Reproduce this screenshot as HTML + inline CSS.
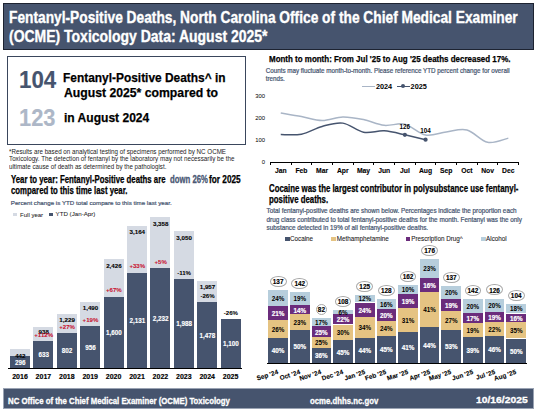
<!DOCTYPE html>
<html><head><meta charset="utf-8"><style>
html,body{margin:0;padding:0;background:#fff;}
body{width:535px;height:411px;position:relative;overflow:hidden;font-family:"Liberation Sans",sans-serif;}
.t{position:absolute;white-space:nowrap;transform-origin:0 0;}
.r{position:absolute;}
</style></head><body>
<div class="r" style="left:3.00px;top:3.00px;width:531.00px;height:47.00px;background:#46546e;box-sizing:border-box;border:1px solid #1d2331"></div>
<div class="t" style="left:9.30px;top:9.76px;font-size:16px;line-height:16px;font-weight:bold;color:#fff;transform:scaleX(0.859) ;-webkit-text-stroke:0.35px #fff;">Fentanyl-Positive Deaths, North Carolina Office of the Chief Medical Examiner</div>
<div class="t" style="left:9.00px;top:29.26px;font-size:16px;line-height:16px;font-weight:bold;color:#fff;transform:scaleX(0.873) ;-webkit-text-stroke:0.35px #fff;">(OCME) Toxicology Data: August 2025*</div>
<div class="r" style="left:7.00px;top:56.00px;width:239.30px;height:88.50px;background:#fff;box-sizing:border-box;border:1px solid #3a465c"></div>
<div class="t" style="left:18.50px;top:68.93px;font-size:23px;line-height:23px;font-weight:bold;color:#46546e;transform:scaleX(0.97) ;-webkit-text-stroke:0.15px #46546e;">104</div>
<div class="t" style="left:18.80px;top:106.83px;font-size:23px;line-height:23px;font-weight:bold;color:#adb7c7;transform:scaleX(0.95) ;-webkit-text-stroke:0.15px #adb7c7;">123</div>
<div class="t" style="left:63.40px;top:71.16px;font-size:13.4px;line-height:13.4px;font-weight:bold;color:#000;transform:scaleX(0.89) ;-webkit-text-stroke:0.25px #000;">Fentanyl-Positive Deaths^ in</div>
<div class="t" style="left:63.60px;top:86.16px;font-size:13.4px;line-height:13.4px;font-weight:bold;color:#000;transform:scaleX(0.912) ;-webkit-text-stroke:0.25px #000;">August 2025* compared to</div>
<div class="t" style="left:63.60px;top:111.36px;font-size:13.4px;line-height:13.4px;font-weight:bold;color:#000;transform:scaleX(0.9) ;-webkit-text-stroke:0.25px #000;">in August 2024</div>
<div class="t" style="left:9.20px;top:149.10px;font-size:6.5px;line-height:6.5px;font-weight:normal;color:#222;transform:scaleX(0.958) ;">*Results are based on analytical testing of specimens performed by NC OCME</div>
<div class="t" style="left:9.20px;top:156.30px;font-size:6.5px;line-height:6.5px;font-weight:normal;color:#222;transform:scaleX(0.964) ;">Toxicology. The detection of fentanyl by the laboratory may not necessarily be the</div>
<div class="t" style="left:9.20px;top:163.50px;font-size:6.5px;line-height:6.5px;font-weight:normal;color:#222;transform:scaleX(0.955) ;">ultimate cause of death as determined by the pathologist.</div>
<div class="t" style="left:10.80px;top:174.94px;font-size:10px;line-height:10px;font-weight:bold;color:#000;transform:scaleX(0.779) ;-webkit-text-stroke:0.25px #000;">Year to year: Fentanyl-Positive deaths are</div>
<div class="t" style="left:169.90px;top:175.03px;font-size:10px;line-height:10px;font-weight:bold;color:#4a5874;transform:scaleX(0.775) ;-webkit-text-stroke:0.3px #4a5874;">down 26%</div>
<div class="t" style="left:208.60px;top:174.94px;font-size:10px;line-height:10px;font-weight:bold;color:#000;transform:scaleX(0.827) ;-webkit-text-stroke:0.25px #000;">for 2025</div>
<div class="t" style="left:10.80px;top:185.53px;font-size:10px;line-height:10px;font-weight:bold;color:#000;transform:scaleX(0.779) ;-webkit-text-stroke:0.25px #000;">compared to this time last year.</div>
<div class="t" style="left:10.80px;top:200.05px;font-size:6.2px;line-height:6.2px;font-weight:normal;color:#44536e;transform:scaleX(1.0) ;-webkit-text-stroke:0.2px #44536e;">Percent change is YTD total compare to this time last year.</div>
<div class="r" style="left:13.40px;top:212.90px;width:3.30px;height:3.30px;background:#d5dae3;"></div>
<div class="t" style="left:20.10px;top:211.62px;font-size:6.0px;line-height:6.0px;font-weight:normal;color:#222;transform:scaleX(1.0) ;-webkit-text-stroke:0.05px #222;">Full year</div>
<div class="r" style="left:49.30px;top:212.90px;width:3.30px;height:3.30px;background:#46546e;"></div>
<div class="t" style="left:55.50px;top:211.45px;font-size:6.2px;line-height:6.2px;font-weight:normal;color:#222;transform:scaleX(1.0) ;-webkit-text-stroke:0.05px #222;">YTD (Jan-Apr)</div>
<div class="r" style="left:10.00px;top:349.26px;width:20.00px;height:19.34px;background:#d5dae3;"></div>
<div class="r" style="left:10.00px;top:355.88px;width:20.00px;height:12.72px;background:#46546e;"></div>
<div class="t" style="left:20.30px;top:352.81px;font-size:6.2px;line-height:6.2px;font-weight:bold;color:#000;transform:scaleX(1.0) translateX(-50%);-webkit-text-stroke:0.1px #000;">442</div>
<div class="t" style="left:20.30px;top:359.71px;font-size:6.3px;line-height:6.3px;font-weight:bold;color:#fff;transform:scaleX(1.0) translateX(-50%);-webkit-text-stroke:0.12px #fff;">296</div>
<div class="t" style="left:20.00px;top:373.37px;font-size:7.0px;line-height:7.0px;font-weight:bold;color:#000;transform:scaleX(1.0) translateX(-50%);-webkit-text-stroke:0.15px #000;">2016</div>
<div class="r" style="left:33.40px;top:326.77px;width:20.00px;height:41.83px;background:#d5dae3;"></div>
<div class="r" style="left:33.40px;top:340.60px;width:20.00px;height:28.00px;background:#46546e;"></div>
<div class="t" style="left:43.70px;top:329.02px;font-size:6.2px;line-height:6.2px;font-weight:bold;color:#000;transform:scaleX(1.0) translateX(-50%);-webkit-text-stroke:0.1px #000;">938</div>
<div class="t" style="left:43.70px;top:332.04px;font-size:6.1px;line-height:6.1px;font-weight:bold;color:#c8102e;transform:scaleX(1.0) translateX(-50%);-webkit-text-stroke:0.05px #c8102e;">+112%</div>
<div class="t" style="left:43.70px;top:352.07px;font-size:6.3px;line-height:6.3px;font-weight:bold;color:#fff;transform:scaleX(1.0) translateX(-50%);-webkit-text-stroke:0.12px #fff;">633</div>
<div class="t" style="left:43.40px;top:373.37px;font-size:7.0px;line-height:7.0px;font-weight:bold;color:#000;transform:scaleX(1.0) translateX(-50%);-webkit-text-stroke:0.15px #000;">2017</div>
<div class="r" style="left:56.80px;top:313.58px;width:20.00px;height:55.02px;background:#d5dae3;"></div>
<div class="r" style="left:56.80px;top:332.94px;width:20.00px;height:35.66px;background:#46546e;"></div>
<div class="t" style="left:67.10px;top:317.13px;font-size:6.2px;line-height:6.2px;font-weight:bold;color:#000;transform:scaleX(1.0) translateX(-50%);-webkit-text-stroke:0.1px #000;">1,229</div>
<div class="t" style="left:67.10px;top:323.57px;font-size:6.1px;line-height:6.1px;font-weight:bold;color:#c8102e;transform:scaleX(1.0) translateX(-50%);-webkit-text-stroke:0.05px #c8102e;">+27%</div>
<div class="t" style="left:67.10px;top:348.24px;font-size:6.3px;line-height:6.3px;font-weight:bold;color:#fff;transform:scaleX(1.0) translateX(-50%);-webkit-text-stroke:0.12px #fff;">802</div>
<div class="t" style="left:66.80px;top:373.37px;font-size:7.0px;line-height:7.0px;font-weight:bold;color:#000;transform:scaleX(1.0) translateX(-50%);-webkit-text-stroke:0.15px #000;">2018</div>
<div class="r" style="left:80.20px;top:301.74px;width:20.00px;height:66.86px;background:#d5dae3;"></div>
<div class="r" style="left:80.20px;top:325.95px;width:20.00px;height:42.65px;background:#46546e;"></div>
<div class="t" style="left:90.50px;top:305.30px;font-size:6.2px;line-height:6.2px;font-weight:bold;color:#000;transform:scaleX(1.0) translateX(-50%);-webkit-text-stroke:0.1px #000;">1,490</div>
<div class="t" style="left:90.50px;top:316.59px;font-size:6.1px;line-height:6.1px;font-weight:bold;color:#c8102e;transform:scaleX(1.0) translateX(-50%);-webkit-text-stroke:0.05px #c8102e;">+19%</div>
<div class="t" style="left:90.50px;top:344.74px;font-size:6.3px;line-height:6.3px;font-weight:bold;color:#fff;transform:scaleX(1.0) translateX(-50%);-webkit-text-stroke:0.12px #fff;">956</div>
<div class="t" style="left:90.20px;top:373.37px;font-size:7.0px;line-height:7.0px;font-weight:bold;color:#000;transform:scaleX(1.0) translateX(-50%);-webkit-text-stroke:0.15px #000;">2019</div>
<div class="r" style="left:103.60px;top:259.31px;width:20.00px;height:109.29px;background:#d5dae3;"></div>
<div class="r" style="left:103.60px;top:296.76px;width:20.00px;height:71.84px;background:#46546e;"></div>
<div class="t" style="left:113.90px;top:262.86px;font-size:6.2px;line-height:6.2px;font-weight:bold;color:#000;transform:scaleX(1.0) translateX(-50%);-webkit-text-stroke:0.1px #000;">2,426</div>
<div class="t" style="left:113.90px;top:287.39px;font-size:6.1px;line-height:6.1px;font-weight:bold;color:#c8102e;transform:scaleX(1.0) translateX(-50%);-webkit-text-stroke:0.05px #c8102e;">+67%</div>
<div class="t" style="left:113.90px;top:330.15px;font-size:6.3px;line-height:6.3px;font-weight:bold;color:#fff;transform:scaleX(1.0) translateX(-50%);-webkit-text-stroke:0.12px #fff;">1,600</div>
<div class="t" style="left:113.60px;top:373.37px;font-size:7.0px;line-height:7.0px;font-weight:bold;color:#000;transform:scaleX(1.0) translateX(-50%);-webkit-text-stroke:0.15px #000;">2020</div>
<div class="r" style="left:127.00px;top:225.84px;width:20.00px;height:142.76px;background:#d5dae3;"></div>
<div class="r" style="left:127.00px;top:272.68px;width:20.00px;height:95.92px;background:#46546e;"></div>
<div class="t" style="left:137.30px;top:229.40px;font-size:6.2px;line-height:6.2px;font-weight:bold;color:#000;transform:scaleX(1.0) translateX(-50%);-webkit-text-stroke:0.1px #000;">3,164</div>
<div class="t" style="left:137.30px;top:263.32px;font-size:6.1px;line-height:6.1px;font-weight:bold;color:#c8102e;transform:scaleX(1.0) translateX(-50%);-webkit-text-stroke:0.05px #c8102e;">+33%</div>
<div class="t" style="left:137.30px;top:318.11px;font-size:6.3px;line-height:6.3px;font-weight:bold;color:#fff;transform:scaleX(1.0) translateX(-50%);-webkit-text-stroke:0.12px #fff;">2,131</div>
<div class="t" style="left:137.00px;top:373.37px;font-size:7.0px;line-height:7.0px;font-weight:bold;color:#000;transform:scaleX(1.0) translateX(-50%);-webkit-text-stroke:0.15px #000;">2021</div>
<div class="r" style="left:150.40px;top:217.05px;width:20.00px;height:151.55px;background:#d5dae3;"></div>
<div class="r" style="left:150.40px;top:268.10px;width:20.00px;height:100.50px;background:#46546e;"></div>
<div class="t" style="left:160.70px;top:220.60px;font-size:6.2px;line-height:6.2px;font-weight:bold;color:#000;transform:scaleX(1.0) translateX(-50%);-webkit-text-stroke:0.1px #000;">3,358</div>
<div class="t" style="left:160.70px;top:258.74px;font-size:6.1px;line-height:6.1px;font-weight:bold;color:#c8102e;transform:scaleX(1.0) translateX(-50%);-webkit-text-stroke:0.05px #c8102e;">+5%</div>
<div class="t" style="left:160.70px;top:315.82px;font-size:6.3px;line-height:6.3px;font-weight:bold;color:#fff;transform:scaleX(1.0) translateX(-50%);-webkit-text-stroke:0.12px #fff;">2,232</div>
<div class="t" style="left:160.40px;top:373.37px;font-size:7.0px;line-height:7.0px;font-weight:bold;color:#000;transform:scaleX(1.0) translateX(-50%);-webkit-text-stroke:0.15px #000;">2022</div>
<div class="r" style="left:173.80px;top:231.01px;width:20.00px;height:137.59px;background:#d5dae3;"></div>
<div class="r" style="left:173.80px;top:279.16px;width:20.00px;height:89.44px;background:#46546e;"></div>
<div class="t" style="left:184.10px;top:234.56px;font-size:6.2px;line-height:6.2px;font-weight:bold;color:#000;transform:scaleX(1.0) translateX(-50%);-webkit-text-stroke:0.1px #000;">3,050</div>
<div class="t" style="left:184.10px;top:269.80px;font-size:6.1px;line-height:6.1px;font-weight:bold;color:#000;transform:scaleX(1.0) translateX(-50%);-webkit-text-stroke:0.05px #000;">-11%</div>
<div class="t" style="left:184.10px;top:321.35px;font-size:6.3px;line-height:6.3px;font-weight:bold;color:#fff;transform:scaleX(1.0) translateX(-50%);-webkit-text-stroke:0.12px #fff;">1,988</div>
<div class="t" style="left:183.80px;top:373.37px;font-size:7.0px;line-height:7.0px;font-weight:bold;color:#000;transform:scaleX(1.0) translateX(-50%);-webkit-text-stroke:0.15px #000;">2023</div>
<div class="r" style="left:197.20px;top:280.57px;width:20.00px;height:88.03px;background:#d5dae3;"></div>
<div class="r" style="left:197.20px;top:302.29px;width:20.00px;height:66.31px;background:#46546e;"></div>
<div class="t" style="left:207.50px;top:284.12px;font-size:6.2px;line-height:6.2px;font-weight:bold;color:#000;transform:scaleX(1.0) translateX(-50%);-webkit-text-stroke:0.1px #000;">1,957</div>
<div class="t" style="left:207.50px;top:292.92px;font-size:6.1px;line-height:6.1px;font-weight:bold;color:#000;transform:scaleX(1.0) translateX(-50%);-webkit-text-stroke:0.05px #000;">-26%</div>
<div class="t" style="left:207.50px;top:332.91px;font-size:6.3px;line-height:6.3px;font-weight:bold;color:#fff;transform:scaleX(1.0) translateX(-50%);-webkit-text-stroke:0.12px #fff;">1,478</div>
<div class="t" style="left:207.20px;top:373.37px;font-size:7.0px;line-height:7.0px;font-weight:bold;color:#000;transform:scaleX(1.0) translateX(-50%);-webkit-text-stroke:0.15px #000;">2024</div>
<div class="r" style="left:220.60px;top:319.43px;width:20.00px;height:49.17px;background:#46546e;"></div>
<div class="t" style="left:230.90px;top:310.06px;font-size:6.1px;line-height:6.1px;font-weight:bold;color:#000;transform:scaleX(1.0) translateX(-50%);-webkit-text-stroke:0.05px #000;">-26%</div>
<div class="t" style="left:230.90px;top:341.48px;font-size:6.3px;line-height:6.3px;font-weight:bold;color:#fff;transform:scaleX(1.0) translateX(-50%);-webkit-text-stroke:0.12px #fff;">1,100</div>
<div class="t" style="left:230.60px;top:373.37px;font-size:7.0px;line-height:7.0px;font-weight:bold;color:#000;transform:scaleX(1.0) translateX(-50%);-webkit-text-stroke:0.15px #000;">2025</div>
<div class="r" style="left:8.00px;top:367.55px;width:233.50px;height:1.10px;background:#000;"></div>
<div class="r" style="left:3.00px;top:387.80px;width:531.00px;height:21.20px;background:#46546e;box-sizing:border-box;border:1px solid #9aa3b3"></div>
<div class="t" style="left:8.00px;top:396.32px;font-size:9.9px;line-height:9.9px;font-weight:bold;color:#fff;transform:scaleX(0.789) ;-webkit-text-stroke:0.35px #fff;">NC Office of the Chief Medical Examiner (OCME) Toxicology</div>
<div class="t" style="left:309.80px;top:396.71px;font-size:9.2px;line-height:9.2px;font-weight:bold;color:#fff;transform:scaleX(0.846) ;-webkit-text-stroke:0.3px #fff;">ocme.dhhs.nc.gov</div>
<div class="t" style="left:476.10px;top:394.94px;font-size:9.4px;line-height:9.4px;font-weight:bold;color:#fff;transform:scaleX(1.1) ;-webkit-text-stroke:0.3px #fff;">10/16/2025</div>
<div class="t" style="left:269.20px;top:53.96px;font-size:9.5px;line-height:9.5px;font-weight:bold;color:#000;transform:scaleX(0.838) ;-webkit-text-stroke:0.25px #000;">Month to month: From Jul '25 to Aug '25 deaths decreased 17%.</div>
<div class="t" style="left:265.70px;top:68.19px;font-size:6.27px;line-height:6.27px;font-weight:normal;color:#44536e;transform:scaleX(1.0) ;-webkit-text-stroke:0.2px #44536e;">Counts may fluctuate month-to-month. Please reference YTD percent change for overall</div>
<div class="t" style="left:265.70px;top:75.99px;font-size:6.27px;line-height:6.27px;font-weight:normal;color:#44536e;transform:scaleX(1.0) ;-webkit-text-stroke:0.2px #44536e;">trends.</div>
<div class="r" style="left:362.20px;top:86.00px;width:13.00px;height:1.00px;background:#a9b5c6;"></div>
<div class="t" style="left:375.90px;top:83.02px;font-size:7.3px;line-height:7.3px;font-weight:bold;color:#000;transform:scaleX(1.0) ;">2024</div>
<div class="r" style="left:397.20px;top:86.00px;width:12.40px;height:1.20px;background:#46546e;"></div>
<div class="r" style="left:401.3px;top:84.3px;width:4px;height:4px;border-radius:50%;background:#46546e"></div>
<div class="t" style="left:410.60px;top:83.02px;font-size:7.3px;line-height:7.3px;font-weight:bold;color:#000;transform:scaleX(1.0) ;">2025</div>
<div class="t" style="left:265.00px;top:160.21px;font-size:5.9px;line-height:5.9px;font-weight:normal;color:#000;transform:scaleX(1.0) translateX(-100%);">0</div>
<div class="t" style="left:265.00px;top:138.16px;font-size:5.9px;line-height:5.9px;font-weight:normal;color:#000;transform:scaleX(1.0) translateX(-100%);">100</div>
<div class="t" style="left:265.00px;top:116.11px;font-size:5.9px;line-height:5.9px;font-weight:normal;color:#000;transform:scaleX(1.0) translateX(-100%);">200</div>
<div class="t" style="left:265.00px;top:94.06px;font-size:5.9px;line-height:5.9px;font-weight:normal;color:#000;transform:scaleX(1.0) translateX(-100%);">300</div>
<div class="r" style="left:270.40px;top:162.20px;width:248.28px;height:1.00px;background:#000;"></div>
<div class="r" style="left:269.90px;top:162.20px;width:1.00px;height:2.50px;background:#000;"></div>
<div class="r" style="left:290.59px;top:162.20px;width:1.00px;height:2.50px;background:#000;"></div>
<div class="r" style="left:311.28px;top:162.20px;width:1.00px;height:2.50px;background:#000;"></div>
<div class="r" style="left:331.97px;top:162.20px;width:1.00px;height:2.50px;background:#000;"></div>
<div class="r" style="left:352.66px;top:162.20px;width:1.00px;height:2.50px;background:#000;"></div>
<div class="r" style="left:373.35px;top:162.20px;width:1.00px;height:2.50px;background:#000;"></div>
<div class="r" style="left:394.04px;top:162.20px;width:1.00px;height:2.50px;background:#000;"></div>
<div class="r" style="left:414.73px;top:162.20px;width:1.00px;height:2.50px;background:#000;"></div>
<div class="r" style="left:435.42px;top:162.20px;width:1.00px;height:2.50px;background:#000;"></div>
<div class="r" style="left:456.11px;top:162.20px;width:1.00px;height:2.50px;background:#000;"></div>
<div class="r" style="left:476.80px;top:162.20px;width:1.00px;height:2.50px;background:#000;"></div>
<div class="r" style="left:497.49px;top:162.20px;width:1.00px;height:2.50px;background:#000;"></div>
<div class="r" style="left:518.18px;top:162.20px;width:1.00px;height:2.50px;background:#000;"></div>
<div class="t" style="left:280.75px;top:168.04px;font-size:6.8px;line-height:6.8px;font-weight:bold;color:#000;transform:scaleX(1.0) translateX(-50%);-webkit-text-stroke:0.1px #000;">Jan</div>
<div class="t" style="left:301.44px;top:168.04px;font-size:6.8px;line-height:6.8px;font-weight:bold;color:#000;transform:scaleX(1.0) translateX(-50%);-webkit-text-stroke:0.1px #000;">Feb</div>
<div class="t" style="left:322.12px;top:168.04px;font-size:6.8px;line-height:6.8px;font-weight:bold;color:#000;transform:scaleX(1.0) translateX(-50%);-webkit-text-stroke:0.1px #000;">Mar</div>
<div class="t" style="left:342.81px;top:168.04px;font-size:6.8px;line-height:6.8px;font-weight:bold;color:#000;transform:scaleX(1.0) translateX(-50%);-webkit-text-stroke:0.1px #000;">Apr</div>
<div class="t" style="left:363.50px;top:168.04px;font-size:6.8px;line-height:6.8px;font-weight:bold;color:#000;transform:scaleX(1.0) translateX(-50%);-webkit-text-stroke:0.1px #000;">May</div>
<div class="t" style="left:384.19px;top:168.04px;font-size:6.8px;line-height:6.8px;font-weight:bold;color:#000;transform:scaleX(1.0) translateX(-50%);-webkit-text-stroke:0.1px #000;">Jun</div>
<div class="t" style="left:404.88px;top:168.04px;font-size:6.8px;line-height:6.8px;font-weight:bold;color:#000;transform:scaleX(1.0) translateX(-50%);-webkit-text-stroke:0.1px #000;">Jul</div>
<div class="t" style="left:425.57px;top:168.04px;font-size:6.8px;line-height:6.8px;font-weight:bold;color:#000;transform:scaleX(1.0) translateX(-50%);-webkit-text-stroke:0.1px #000;">Aug</div>
<div class="t" style="left:446.26px;top:168.04px;font-size:6.8px;line-height:6.8px;font-weight:bold;color:#000;transform:scaleX(1.0) translateX(-50%);-webkit-text-stroke:0.1px #000;">Sep</div>
<div class="t" style="left:466.95px;top:168.04px;font-size:6.8px;line-height:6.8px;font-weight:bold;color:#000;transform:scaleX(1.0) translateX(-50%);-webkit-text-stroke:0.1px #000;">Oct</div>
<div class="t" style="left:487.64px;top:168.04px;font-size:6.8px;line-height:6.8px;font-weight:bold;color:#000;transform:scaleX(1.0) translateX(-50%);-webkit-text-stroke:0.1px #000;">Nov</div>
<div class="t" style="left:508.33px;top:168.04px;font-size:6.8px;line-height:6.8px;font-weight:bold;color:#000;transform:scaleX(1.0) translateX(-50%);-webkit-text-stroke:0.1px #000;">Dec</div>
<svg class="r" style="left:0;top:0" width="535" height="411" viewBox="0 0 535 411"><path d="M280.75,112.99 C284.19,113.58 294.54,115.27 301.44,116.52 C308.33,117.77 315.23,120.41 322.12,120.48 C329.02,120.56 335.92,117.10 342.81,116.96 C349.71,116.81 356.61,118.21 363.50,119.60 C370.40,121.00 377.30,124.56 384.19,125.34 C391.09,126.11 397.99,122.62 404.88,124.23 C411.78,125.85 418.68,133.75 425.57,135.04 C432.47,136.32 439.37,132.80 446.26,131.95 C453.16,131.11 460.06,128.24 466.95,129.97 C473.85,131.69 480.75,140.95 487.64,142.31 C494.54,143.67 504.89,138.82 508.33,138.12" fill="none" stroke="#a9b5c6" stroke-width="1.5"/><path d="M280.75,134.60 C284.19,134.52 294.54,135.52 301.44,134.16 C308.33,132.80 315.23,128.28 322.12,126.44 C329.02,124.60 335.92,122.17 342.81,123.13 C349.71,124.09 356.61,130.88 363.50,132.17 C370.40,133.46 377.30,130.41 384.19,130.85 C391.09,131.29 401.44,134.16 404.88,134.82" fill="none" stroke="#46546e" stroke-width="1.5"/><line x1="404.88" y1="134.82" x2="425.57" y2="139.67" stroke="#46546e" stroke-width="1.5"/><circle cx="404.88" cy="134.82" r="2.1" fill="#46546e"/><circle cx="425.57" cy="139.67" r="2.1" fill="#46546e"/></svg>
<div class="t" style="left:404.88px;top:123.78px;font-size:6.3px;line-height:6.3px;font-weight:bold;color:#000;transform:scaleX(1.0) translateX(-50%);">126</div>
<div class="t" style="left:425.57px;top:128.34px;font-size:6.3px;line-height:6.3px;font-weight:bold;color:#000;transform:scaleX(1.0) translateX(-50%);">104</div>
<div class="t" style="left:268.50px;top:183.53px;font-size:10px;line-height:10px;font-weight:bold;color:#000;transform:scaleX(0.782) ;-webkit-text-stroke:0.25px #000;">Cocaine was the largest contributor in polysubstance use fentanyl-</div>
<div class="t" style="left:268.50px;top:194.94px;font-size:10px;line-height:10px;font-weight:bold;color:#000;transform:scaleX(0.782) ;-webkit-text-stroke:0.25px #000;">positive deaths.</div>
<div class="t" style="left:266.60px;top:208.22px;font-size:6.35px;line-height:6.35px;font-weight:normal;color:#44536e;transform:scaleX(1.0) ;-webkit-text-stroke:0.2px #44536e;">Total fentanyl-positive deaths are shown below. Percentages indicate the proportion each</div>
<div class="t" style="left:266.60px;top:216.52px;font-size:6.35px;line-height:6.35px;font-weight:normal;color:#44536e;transform:scaleX(1.0) ;-webkit-text-stroke:0.2px #44536e;">drug class contributed to total fentanyl-positive deaths for the month. Fentanyl was the only</div>
<div class="t" style="left:266.60px;top:224.92px;font-size:6.35px;line-height:6.35px;font-weight:normal;color:#44536e;transform:scaleX(1.0) ;-webkit-text-stroke:0.2px #44536e;">substance detected in 19% of all fentanyl-positive deaths.</div>
<div class="r" style="left:285.30px;top:237.20px;width:4.80px;height:3.60px;background:#46546e;"></div>
<div class="t" style="left:290.00px;top:235.67px;font-size:6.3px;line-height:6.3px;font-weight:normal;color:#222;transform:scaleX(1.0) ;-webkit-text-stroke:0.08px #222;">Cocaine</div>
<div class="r" style="left:330.90px;top:237.20px;width:4.80px;height:3.60px;background:#e5c382;"></div>
<div class="t" style="left:336.70px;top:235.67px;font-size:6.3px;line-height:6.3px;font-weight:normal;color:#222;transform:scaleX(1.0) ;-webkit-text-stroke:0.08px #222;">Methamphetamine</div>
<div class="r" style="left:405.70px;top:237.20px;width:4.80px;height:3.60px;background:#6b2c7c;"></div>
<div class="t" style="left:411.20px;top:235.67px;font-size:6.3px;line-height:6.3px;font-weight:normal;color:#222;transform:scaleX(1.0) ;-webkit-text-stroke:0.08px #222;">Prescription Drug^</div>
<div class="r" style="left:481.10px;top:237.20px;width:4.80px;height:3.60px;background:#b7cedc;"></div>
<div class="t" style="left:486.10px;top:235.67px;font-size:6.3px;line-height:6.3px;font-weight:normal;color:#222;transform:scaleX(1.0) ;-webkit-text-stroke:0.08px #222;">Alcohol</div>
<div class="r" style="left:268.30px;top:337.80px;width:19.70px;height:24.75px;background:#46546e;"></div>
<div class="t" style="left:278.15px;top:348.34px;font-size:6.3px;line-height:6.3px;font-weight:bold;color:#fff;transform:scaleX(1.0) translateX(-50%);-webkit-text-stroke:0.18px #fff;">40%</div>
<div class="r" style="left:268.30px;top:319.90px;width:19.70px;height:17.90px;background:#e5c382;"></div>
<div class="t" style="left:278.15px;top:326.52px;font-size:6.3px;line-height:6.3px;font-weight:bold;color:#000;transform:scaleX(1.0) translateX(-50%);">26%</div>
<div class="r" style="left:268.30px;top:306.20px;width:19.70px;height:13.70px;background:#6b2c7c;"></div>
<div class="t" style="left:278.15px;top:311.22px;font-size:6.3px;line-height:6.3px;font-weight:bold;color:#fff;transform:scaleX(1.0) translateX(-50%);-webkit-text-stroke:0.18px #fff;">21%</div>
<div class="r" style="left:268.30px;top:290.25px;width:19.70px;height:15.95px;background:#b7cedc;"></div>
<div class="t" style="left:278.15px;top:295.89px;font-size:6.3px;line-height:6.3px;font-weight:bold;color:#000;transform:scaleX(1.0) translateX(-50%);">24%</div>
<div class="r" style="left:269.75px;top:275.95px;width:16.8px;height:11.2px;box-sizing:border-box;border:0.8px solid #a8a8a8;border-radius:50%;background:#fff"></div>
<div class="t" style="left:278.15px;top:279.23px;font-size:6.4px;line-height:6.4px;font-weight:bold;color:#000;transform:scaleX(1.0) translateX(-50%);-webkit-text-stroke:0.15px #000;">137</div>
<div class="t" style="left:277.15px;top:368.70px;font-size:6.4px;line-height:6.4px;font-weight:bold;color:#000;-webkit-text-stroke:0.1px #000;transform-origin:100% 0;transform:translateX(-100%) rotate(-18deg)">Sep '24</div>
<div class="r" style="left:289.94px;top:329.80px;width:19.70px;height:32.75px;background:#46546e;"></div>
<div class="t" style="left:299.79px;top:344.34px;font-size:6.3px;line-height:6.3px;font-weight:bold;color:#fff;transform:scaleX(1.0) translateX(-50%);-webkit-text-stroke:0.18px #fff;">50%</div>
<div class="r" style="left:289.94px;top:314.40px;width:19.70px;height:15.40px;background:#e5c382;"></div>
<div class="t" style="left:299.79px;top:319.77px;font-size:6.3px;line-height:6.3px;font-weight:bold;color:#000;transform:scaleX(1.0) translateX(-50%);">23%</div>
<div class="r" style="left:289.94px;top:304.90px;width:19.70px;height:9.50px;background:#6b2c7c;"></div>
<div class="t" style="left:299.79px;top:307.82px;font-size:6.3px;line-height:6.3px;font-weight:bold;color:#fff;transform:scaleX(1.0) translateX(-50%);-webkit-text-stroke:0.18px #fff;">14%</div>
<div class="r" style="left:289.94px;top:291.80px;width:19.70px;height:13.10px;background:#b7cedc;"></div>
<div class="t" style="left:299.79px;top:296.02px;font-size:6.3px;line-height:6.3px;font-weight:bold;color:#000;transform:scaleX(1.0) translateX(-50%);">19%</div>
<div class="r" style="left:291.39px;top:277.50px;width:16.8px;height:11.2px;box-sizing:border-box;border:0.8px solid #a8a8a8;border-radius:50%;background:#fff"></div>
<div class="t" style="left:299.79px;top:280.78px;font-size:6.4px;line-height:6.4px;font-weight:bold;color:#000;transform:scaleX(1.0) translateX(-50%);-webkit-text-stroke:0.15px #000;">142</div>
<div class="t" style="left:298.79px;top:368.70px;font-size:6.4px;line-height:6.4px;font-weight:bold;color:#000;-webkit-text-stroke:0.1px #000;transform-origin:100% 0;transform:translateX(-100%) rotate(-18deg)">Oct '24</div>
<div class="r" style="left:311.58px;top:347.60px;width:19.70px;height:14.95px;background:#46546e;"></div>
<div class="t" style="left:321.43px;top:353.24px;font-size:6.3px;line-height:6.3px;font-weight:bold;color:#fff;transform:scaleX(1.0) translateX(-50%);-webkit-text-stroke:0.18px #fff;">36%</div>
<div class="r" style="left:311.58px;top:337.10px;width:19.70px;height:10.50px;background:#e5c382;"></div>
<div class="t" style="left:321.43px;top:340.02px;font-size:6.3px;line-height:6.3px;font-weight:bold;color:#000;transform:scaleX(1.0) translateX(-50%);">25%</div>
<div class="r" style="left:311.58px;top:326.10px;width:19.70px;height:11.00px;background:#6b2c7c;"></div>
<div class="t" style="left:321.43px;top:329.77px;font-size:6.3px;line-height:6.3px;font-weight:bold;color:#fff;transform:scaleX(1.0) translateX(-50%);-webkit-text-stroke:0.18px #fff;">25%</div>
<div class="r" style="left:311.58px;top:318.00px;width:19.70px;height:8.10px;background:#b7cedc;"></div>
<div class="t" style="left:321.43px;top:319.72px;font-size:6.3px;line-height:6.3px;font-weight:bold;color:#000;transform:scaleX(1.0) translateX(-50%);">17%</div>
<div class="r" style="left:315.83px;top:303.70px;width:11.2px;height:11.2px;box-sizing:border-box;border:0.8px solid #a8a8a8;border-radius:50%;background:#fff"></div>
<div class="t" style="left:321.43px;top:306.98px;font-size:6.4px;line-height:6.4px;font-weight:bold;color:#000;transform:scaleX(1.0) translateX(-50%);-webkit-text-stroke:0.15px #000;">82</div>
<div class="t" style="left:320.43px;top:368.70px;font-size:6.4px;line-height:6.4px;font-weight:bold;color:#000;-webkit-text-stroke:0.1px #000;transform-origin:100% 0;transform:translateX(-100%) rotate(-18deg)">Nov '24</div>
<div class="r" style="left:333.22px;top:340.40px;width:19.70px;height:22.15px;background:#46546e;"></div>
<div class="t" style="left:343.07px;top:349.64px;font-size:6.3px;line-height:6.3px;font-weight:bold;color:#fff;transform:scaleX(1.0) translateX(-50%);-webkit-text-stroke:0.18px #fff;">45%</div>
<div class="r" style="left:333.22px;top:324.50px;width:19.70px;height:15.90px;background:#e5c382;"></div>
<div class="t" style="left:343.07px;top:330.12px;font-size:6.3px;line-height:6.3px;font-weight:bold;color:#000;transform:scaleX(1.0) translateX(-50%);">30%</div>
<div class="r" style="left:333.22px;top:313.80px;width:19.70px;height:10.70px;background:#6b2c7c;"></div>
<div class="t" style="left:343.07px;top:317.32px;font-size:6.3px;line-height:6.3px;font-weight:bold;color:#fff;transform:scaleX(1.0) translateX(-50%);-webkit-text-stroke:0.18px #fff;">22%</div>
<div class="r" style="left:333.22px;top:309.90px;width:19.70px;height:3.90px;background:#b7cedc;"></div>
<div class="t" style="left:343.07px;top:309.52px;font-size:6.3px;line-height:6.3px;font-weight:bold;color:#000;transform:scaleX(1.0) translateX(-50%);">6%</div>
<div class="r" style="left:334.67px;top:295.60px;width:16.8px;height:11.2px;box-sizing:border-box;border:0.8px solid #a8a8a8;border-radius:50%;background:#fff"></div>
<div class="t" style="left:343.07px;top:298.88px;font-size:6.4px;line-height:6.4px;font-weight:bold;color:#000;transform:scaleX(1.0) translateX(-50%);-webkit-text-stroke:0.15px #000;">108</div>
<div class="t" style="left:342.07px;top:368.70px;font-size:6.4px;line-height:6.4px;font-weight:bold;color:#000;-webkit-text-stroke:0.1px #000;transform-origin:100% 0;transform:translateX(-100%) rotate(-18deg)">Dec '24</div>
<div class="r" style="left:354.86px;top:337.90px;width:19.70px;height:24.65px;background:#46546e;"></div>
<div class="t" style="left:364.71px;top:348.39px;font-size:6.3px;line-height:6.3px;font-weight:bold;color:#fff;transform:scaleX(1.0) translateX(-50%);-webkit-text-stroke:0.18px #fff;">44%</div>
<div class="r" style="left:354.86px;top:317.10px;width:19.70px;height:20.80px;background:#e5c382;"></div>
<div class="t" style="left:364.71px;top:325.17px;font-size:6.3px;line-height:6.3px;font-weight:bold;color:#000;transform:scaleX(1.0) translateX(-50%);">34%</div>
<div class="r" style="left:354.86px;top:302.50px;width:19.70px;height:14.60px;background:#6b2c7c;"></div>
<div class="t" style="left:364.71px;top:307.97px;font-size:6.3px;line-height:6.3px;font-weight:bold;color:#fff;transform:scaleX(1.0) translateX(-50%);-webkit-text-stroke:0.18px #fff;">24%</div>
<div class="r" style="left:354.86px;top:295.10px;width:19.70px;height:7.40px;background:#b7cedc;"></div>
<div class="t" style="left:364.71px;top:296.47px;font-size:6.3px;line-height:6.3px;font-weight:bold;color:#000;transform:scaleX(1.0) translateX(-50%);">12%</div>
<div class="r" style="left:356.31px;top:280.80px;width:16.8px;height:11.2px;box-sizing:border-box;border:0.8px solid #a8a8a8;border-radius:50%;background:#fff"></div>
<div class="t" style="left:364.71px;top:284.08px;font-size:6.4px;line-height:6.4px;font-weight:bold;color:#000;transform:scaleX(1.0) translateX(-50%);-webkit-text-stroke:0.15px #000;">125</div>
<div class="t" style="left:363.71px;top:368.70px;font-size:6.4px;line-height:6.4px;font-weight:bold;color:#000;-webkit-text-stroke:0.1px #000;transform-origin:100% 0;transform:translateX(-100%) rotate(-18deg)">Jan '25</div>
<div class="r" style="left:376.50px;top:336.10px;width:19.70px;height:26.45px;background:#46546e;"></div>
<div class="t" style="left:386.35px;top:347.49px;font-size:6.3px;line-height:6.3px;font-weight:bold;color:#fff;transform:scaleX(1.0) translateX(-50%);-webkit-text-stroke:0.18px #fff;">45%</div>
<div class="r" style="left:376.50px;top:320.60px;width:19.70px;height:15.50px;background:#e5c382;"></div>
<div class="t" style="left:386.35px;top:326.02px;font-size:6.3px;line-height:6.3px;font-weight:bold;color:#000;transform:scaleX(1.0) translateX(-50%);">24%</div>
<div class="r" style="left:376.50px;top:309.30px;width:19.70px;height:11.30px;background:#6b2c7c;"></div>
<div class="t" style="left:386.35px;top:313.12px;font-size:6.3px;line-height:6.3px;font-weight:bold;color:#fff;transform:scaleX(1.0) translateX(-50%);-webkit-text-stroke:0.18px #fff;">20%</div>
<div class="r" style="left:376.50px;top:299.00px;width:19.70px;height:10.30px;background:#b7cedc;"></div>
<div class="t" style="left:386.35px;top:301.82px;font-size:6.3px;line-height:6.3px;font-weight:bold;color:#000;transform:scaleX(1.0) translateX(-50%);">16%</div>
<div class="r" style="left:377.95px;top:284.70px;width:16.8px;height:11.2px;box-sizing:border-box;border:0.8px solid #a8a8a8;border-radius:50%;background:#fff"></div>
<div class="t" style="left:386.35px;top:287.98px;font-size:6.4px;line-height:6.4px;font-weight:bold;color:#000;transform:scaleX(1.0) translateX(-50%);-webkit-text-stroke:0.15px #000;">128</div>
<div class="t" style="left:385.35px;top:368.70px;font-size:6.4px;line-height:6.4px;font-weight:bold;color:#000;-webkit-text-stroke:0.1px #000;transform-origin:100% 0;transform:translateX(-100%) rotate(-18deg)">Feb '25</div>
<div class="r" style="left:398.14px;top:332.00px;width:19.70px;height:30.55px;background:#46546e;"></div>
<div class="t" style="left:407.99px;top:345.44px;font-size:6.3px;line-height:6.3px;font-weight:bold;color:#fff;transform:scaleX(1.0) translateX(-50%);-webkit-text-stroke:0.18px #fff;">41%</div>
<div class="r" style="left:398.14px;top:308.00px;width:19.70px;height:24.00px;background:#e5c382;"></div>
<div class="t" style="left:407.99px;top:317.67px;font-size:6.3px;line-height:6.3px;font-weight:bold;color:#000;transform:scaleX(1.0) translateX(-50%);">31%</div>
<div class="r" style="left:398.14px;top:293.60px;width:19.70px;height:14.40px;background:#6b2c7c;"></div>
<div class="t" style="left:407.99px;top:298.97px;font-size:6.3px;line-height:6.3px;font-weight:bold;color:#fff;transform:scaleX(1.0) translateX(-50%);-webkit-text-stroke:0.18px #fff;">19%</div>
<div class="r" style="left:398.14px;top:285.00px;width:19.70px;height:8.60px;background:#b7cedc;"></div>
<div class="t" style="left:407.99px;top:286.97px;font-size:6.3px;line-height:6.3px;font-weight:bold;color:#000;transform:scaleX(1.0) translateX(-50%);">10%</div>
<div class="r" style="left:399.59px;top:270.70px;width:16.8px;height:11.2px;box-sizing:border-box;border:0.8px solid #a8a8a8;border-radius:50%;background:#fff"></div>
<div class="t" style="left:407.99px;top:273.98px;font-size:6.4px;line-height:6.4px;font-weight:bold;color:#000;transform:scaleX(1.0) translateX(-50%);-webkit-text-stroke:0.15px #000;">162</div>
<div class="t" style="left:406.99px;top:368.70px;font-size:6.4px;line-height:6.4px;font-weight:bold;color:#000;-webkit-text-stroke:0.1px #000;transform-origin:100% 0;transform:translateX(-100%) rotate(-18deg)">Mar '25</div>
<div class="r" style="left:419.78px;top:327.00px;width:19.70px;height:35.55px;background:#46546e;"></div>
<div class="t" style="left:429.63px;top:342.94px;font-size:6.3px;line-height:6.3px;font-weight:bold;color:#fff;transform:scaleX(1.0) translateX(-50%);-webkit-text-stroke:0.18px #fff;">44%</div>
<div class="r" style="left:419.78px;top:292.00px;width:19.70px;height:35.00px;background:#e5c382;"></div>
<div class="t" style="left:429.63px;top:307.17px;font-size:6.3px;line-height:6.3px;font-weight:bold;color:#000;transform:scaleX(1.0) translateX(-50%);">41%</div>
<div class="r" style="left:419.78px;top:278.00px;width:19.70px;height:14.00px;background:#6b2c7c;"></div>
<div class="t" style="left:429.63px;top:283.17px;font-size:6.3px;line-height:6.3px;font-weight:bold;color:#fff;transform:scaleX(1.0) translateX(-50%);-webkit-text-stroke:0.18px #fff;">16%</div>
<div class="r" style="left:419.78px;top:259.10px;width:19.70px;height:18.90px;background:#b7cedc;"></div>
<div class="t" style="left:429.63px;top:266.22px;font-size:6.3px;line-height:6.3px;font-weight:bold;color:#000;transform:scaleX(1.0) translateX(-50%);">23%</div>
<div class="r" style="left:421.23px;top:244.80px;width:16.8px;height:11.2px;box-sizing:border-box;border:0.8px solid #a8a8a8;border-radius:50%;background:#fff"></div>
<div class="t" style="left:429.63px;top:248.08px;font-size:6.4px;line-height:6.4px;font-weight:bold;color:#000;transform:scaleX(1.0) translateX(-50%);-webkit-text-stroke:0.15px #000;">176</div>
<div class="t" style="left:428.63px;top:368.70px;font-size:6.4px;line-height:6.4px;font-weight:bold;color:#000;-webkit-text-stroke:0.1px #000;transform-origin:100% 0;transform:translateX(-100%) rotate(-18deg)">Apr '25</div>
<div class="r" style="left:441.42px;top:329.80px;width:19.70px;height:32.75px;background:#46546e;"></div>
<div class="t" style="left:451.27px;top:344.34px;font-size:6.3px;line-height:6.3px;font-weight:bold;color:#fff;transform:scaleX(1.0) translateX(-50%);-webkit-text-stroke:0.18px #fff;">53%</div>
<div class="r" style="left:441.42px;top:311.00px;width:19.70px;height:18.80px;background:#e5c382;"></div>
<div class="t" style="left:451.27px;top:318.07px;font-size:6.3px;line-height:6.3px;font-weight:bold;color:#000;transform:scaleX(1.0) translateX(-50%);">27%</div>
<div class="r" style="left:441.42px;top:299.00px;width:19.70px;height:12.00px;background:#6b2c7c;"></div>
<div class="t" style="left:451.27px;top:303.17px;font-size:6.3px;line-height:6.3px;font-weight:bold;color:#fff;transform:scaleX(1.0) translateX(-50%);-webkit-text-stroke:0.18px #fff;">19%</div>
<div class="r" style="left:441.42px;top:285.80px;width:19.70px;height:13.20px;background:#b7cedc;"></div>
<div class="t" style="left:451.27px;top:290.07px;font-size:6.3px;line-height:6.3px;font-weight:bold;color:#000;transform:scaleX(1.0) translateX(-50%);">20%</div>
<div class="r" style="left:442.87px;top:271.50px;width:16.8px;height:11.2px;box-sizing:border-box;border:0.8px solid #a8a8a8;border-radius:50%;background:#fff"></div>
<div class="t" style="left:451.27px;top:274.78px;font-size:6.4px;line-height:6.4px;font-weight:bold;color:#000;transform:scaleX(1.0) translateX(-50%);-webkit-text-stroke:0.15px #000;">137</div>
<div class="t" style="left:450.27px;top:368.70px;font-size:6.4px;line-height:6.4px;font-weight:bold;color:#000;-webkit-text-stroke:0.1px #000;transform-origin:100% 0;transform:translateX(-100%) rotate(-18deg)">May '25</div>
<div class="r" style="left:463.06px;top:337.10px;width:19.70px;height:25.45px;background:#46546e;"></div>
<div class="t" style="left:472.91px;top:347.99px;font-size:6.3px;line-height:6.3px;font-weight:bold;color:#fff;transform:scaleX(1.0) translateX(-50%);-webkit-text-stroke:0.18px #fff;">39%</div>
<div class="r" style="left:463.06px;top:323.30px;width:19.70px;height:13.80px;background:#e5c382;"></div>
<div class="t" style="left:472.91px;top:327.87px;font-size:6.3px;line-height:6.3px;font-weight:bold;color:#000;transform:scaleX(1.0) translateX(-50%);">19%</div>
<div class="r" style="left:463.06px;top:312.80px;width:19.70px;height:10.50px;background:#6b2c7c;"></div>
<div class="t" style="left:472.91px;top:316.22px;font-size:6.3px;line-height:6.3px;font-weight:bold;color:#fff;transform:scaleX(1.0) translateX(-50%);-webkit-text-stroke:0.18px #fff;">17%</div>
<div class="r" style="left:463.06px;top:299.00px;width:19.70px;height:13.80px;background:#b7cedc;"></div>
<div class="t" style="left:472.91px;top:303.57px;font-size:6.3px;line-height:6.3px;font-weight:bold;color:#000;transform:scaleX(1.0) translateX(-50%);">20%</div>
<div class="r" style="left:464.51px;top:284.70px;width:16.8px;height:11.2px;box-sizing:border-box;border:0.8px solid #a8a8a8;border-radius:50%;background:#fff"></div>
<div class="t" style="left:472.91px;top:287.98px;font-size:6.4px;line-height:6.4px;font-weight:bold;color:#000;transform:scaleX(1.0) translateX(-50%);-webkit-text-stroke:0.15px #000;">142</div>
<div class="t" style="left:471.91px;top:368.70px;font-size:6.4px;line-height:6.4px;font-weight:bold;color:#000;-webkit-text-stroke:0.1px #000;transform-origin:100% 0;transform:translateX(-100%) rotate(-18deg)">Jun '25</div>
<div class="r" style="left:484.70px;top:335.90px;width:19.70px;height:26.65px;background:#46546e;"></div>
<div class="t" style="left:494.55px;top:347.39px;font-size:6.3px;line-height:6.3px;font-weight:bold;color:#fff;transform:scaleX(1.0) translateX(-50%);-webkit-text-stroke:0.18px #fff;">46%</div>
<div class="r" style="left:484.70px;top:322.30px;width:19.70px;height:13.60px;background:#e5c382;"></div>
<div class="t" style="left:494.55px;top:326.77px;font-size:6.3px;line-height:6.3px;font-weight:bold;color:#000;transform:scaleX(1.0) translateX(-50%);">22%</div>
<div class="r" style="left:484.70px;top:311.60px;width:19.70px;height:10.70px;background:#6b2c7c;"></div>
<div class="t" style="left:494.55px;top:315.12px;font-size:6.3px;line-height:6.3px;font-weight:bold;color:#fff;transform:scaleX(1.0) translateX(-50%);-webkit-text-stroke:0.18px #fff;">19%</div>
<div class="r" style="left:484.70px;top:298.60px;width:19.70px;height:13.00px;background:#b7cedc;"></div>
<div class="t" style="left:494.55px;top:302.77px;font-size:6.3px;line-height:6.3px;font-weight:bold;color:#000;transform:scaleX(1.0) translateX(-50%);">20%</div>
<div class="r" style="left:486.15px;top:284.30px;width:16.8px;height:11.2px;box-sizing:border-box;border:0.8px solid #a8a8a8;border-radius:50%;background:#fff"></div>
<div class="t" style="left:494.55px;top:287.58px;font-size:6.4px;line-height:6.4px;font-weight:bold;color:#000;transform:scaleX(1.0) translateX(-50%);-webkit-text-stroke:0.15px #000;">126</div>
<div class="t" style="left:493.55px;top:368.70px;font-size:6.4px;line-height:6.4px;font-weight:bold;color:#000;-webkit-text-stroke:0.1px #000;transform-origin:100% 0;transform:translateX(-100%) rotate(-18deg)">Jul '25</div>
<div class="r" style="left:506.34px;top:338.50px;width:19.70px;height:24.05px;background:#46546e;"></div>
<div class="t" style="left:516.19px;top:348.69px;font-size:6.3px;line-height:6.3px;font-weight:bold;color:#fff;transform:scaleX(1.0) translateX(-50%);-webkit-text-stroke:0.18px #fff;">50%</div>
<div class="r" style="left:506.34px;top:321.70px;width:19.70px;height:16.80px;background:#e5c382;"></div>
<div class="t" style="left:516.19px;top:327.77px;font-size:6.3px;line-height:6.3px;font-weight:bold;color:#000;transform:scaleX(1.0) translateX(-50%);">35%</div>
<div class="r" style="left:506.34px;top:313.50px;width:19.70px;height:8.20px;background:#6b2c7c;"></div>
<div class="t" style="left:516.19px;top:315.77px;font-size:6.3px;line-height:6.3px;font-weight:bold;color:#fff;transform:scaleX(1.0) translateX(-50%);-webkit-text-stroke:0.18px #fff;">16%</div>
<div class="r" style="left:506.34px;top:304.10px;width:19.70px;height:9.40px;background:#b7cedc;"></div>
<div class="t" style="left:516.19px;top:306.47px;font-size:6.3px;line-height:6.3px;font-weight:bold;color:#000;transform:scaleX(1.0) translateX(-50%);">18%</div>
<div class="r" style="left:507.79px;top:289.80px;width:16.8px;height:11.2px;box-sizing:border-box;border:0.8px solid #a8a8a8;border-radius:50%;background:#fff"></div>
<div class="t" style="left:516.19px;top:293.08px;font-size:6.4px;line-height:6.4px;font-weight:bold;color:#000;transform:scaleX(1.0) translateX(-50%);-webkit-text-stroke:0.15px #000;">104</div>
<div class="t" style="left:515.19px;top:368.70px;font-size:6.4px;line-height:6.4px;font-weight:bold;color:#000;-webkit-text-stroke:0.1px #000;transform-origin:100% 0;transform:translateX(-100%) rotate(-18deg)">Aug '25</div>
<div class="r" style="left:267.30px;top:362.50px;width:259.60px;height:1.20px;background:#000;"></div>
</body></html>
